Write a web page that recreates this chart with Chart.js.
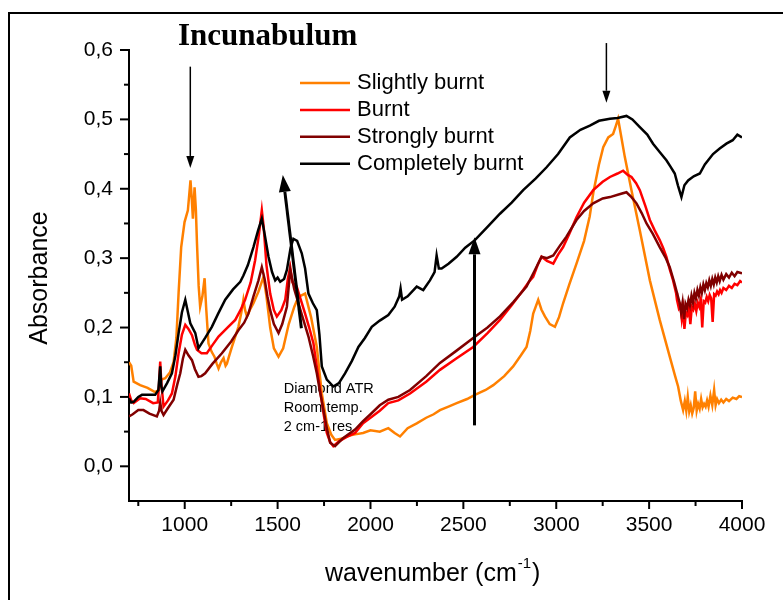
<!DOCTYPE html>
<html>
<head>
<meta charset="utf-8">
<script src="https://cdn.jsdelivr.net/npm/chart.js@4.4.1/dist/chart.umd.min.js"></script>
<style>
  body { margin: 0; background: #fff; }
  #frame { position: absolute; left: 8px; top: 12px; width: 800px; height: 620px;
           border-left: 2px solid #000; border-top: 2px solid #000; }
  #myChart { position: absolute; left: 0; top: 0; }
</style>
</head>
<body>
<div id="frame"></div>
<canvas id="myChart" width="783" height="600"></canvas>
<script>
// wavenumbers and absorbance
const slightX = [700, 712, 725, 760, 800, 840, 860, 875, 895, 920, 940, 955, 967, 981, 999, 1017, 1031, 1038, 1044, 1053, 1060, 1066, 1075, 1083, 1095, 1107, 1115, 1128, 1145, 1160, 1172, 1182, 1195, 1209, 1220, 1227, 1240, 1254, 1270, 1289, 1305, 1316, 1325, 1335, 1350, 1370, 1397, 1424, 1440, 1460, 1480, 1505, 1530, 1560, 1590, 1612, 1648, 1680, 1711, 1738, 1765, 1790, 1809, 1850, 1880, 1917, 1960, 2000, 2050, 2096, 2130, 2159, 2200, 2249, 2300, 2340, 2374, 2420, 2464, 2520, 2562, 2620, 2661, 2720, 2768, 2810, 2840, 2860, 2876, 2903, 2920, 2939, 2965, 2993, 3015, 3037, 3070, 3109, 3150, 3180, 3200, 3230, 3253, 3280, 3306, 3320, 3333, 3350, 3369, 3405, 3450, 3504, 3557, 3611, 3640, 3656, 3670, 3683, 3692, 3700, 3708, 3716, 3724, 3732, 3740, 3748, 3756, 3764, 3772, 3780, 3788, 3796, 3804, 3812, 3820, 3830, 3840, 3850, 3858, 3866, 3876, 3888, 3900, 3915, 3930, 3950, 3970, 3985, 4000];
const slightY = [0.150, 0.145, 0.122, 0.117, 0.113, 0.107, 0.110, 0.125, 0.127, 0.135, 0.150, 0.185, 0.250, 0.316, 0.352, 0.369, 0.412, 0.385, 0.357, 0.402, 0.370, 0.321, 0.260, 0.230, 0.245, 0.271, 0.230, 0.177, 0.165, 0.158, 0.148, 0.141, 0.150, 0.156, 0.145, 0.148, 0.160, 0.172, 0.185, 0.201, 0.222, 0.240, 0.225, 0.216, 0.225, 0.235, 0.252, 0.273, 0.245, 0.200, 0.170, 0.158, 0.170, 0.205, 0.230, 0.244, 0.249, 0.215, 0.172, 0.105, 0.062, 0.045, 0.038, 0.040, 0.044, 0.046, 0.048, 0.052, 0.050, 0.055, 0.048, 0.043, 0.055, 0.062, 0.070, 0.075, 0.081, 0.086, 0.091, 0.097, 0.103, 0.110, 0.117, 0.130, 0.144, 0.160, 0.172, 0.195, 0.220, 0.240, 0.226, 0.216, 0.205, 0.201, 0.215, 0.235, 0.262, 0.292, 0.325, 0.360, 0.395, 0.435, 0.460, 0.474, 0.479, 0.490, 0.501, 0.475, 0.446, 0.398, 0.340, 0.268, 0.211, 0.158, 0.130, 0.115, 0.095, 0.081, 0.094, 0.080, 0.100, 0.079, 0.088, 0.076, 0.084, 0.108, 0.080, 0.090, 0.083, 0.097, 0.085, 0.090, 0.086, 0.095, 0.086, 0.102, 0.088, 0.110, 0.088, 0.097, 0.091, 0.096, 0.092, 0.097, 0.094, 0.099, 0.097, 0.101, 0.100];

const burntX = [700, 712, 725, 760, 790, 830, 855, 862, 868, 874, 886, 910, 931, 950, 967, 985, 1003, 1020, 1039, 1055, 1066, 1090, 1119, 1150, 1182, 1230, 1272, 1300, 1325, 1355, 1379, 1400, 1415, 1425, 1440, 1460, 1480, 1496, 1520, 1541, 1555, 1568, 1580, 1603, 1625, 1648, 1670, 1693, 1710, 1729, 1748, 1765, 1783, 1800, 1830, 1870, 1917, 1960, 2000, 2050, 2096, 2150, 2213, 2300, 2374, 2460, 2553, 2630, 2697, 2760, 2822, 2850, 2876, 2900, 2921, 2950, 2984, 3010, 3037, 3070, 3109, 3150, 3199, 3250, 3289, 3330, 3360, 3385, 3405, 3430, 3450, 3480, 3504, 3530, 3557, 3575, 3593, 3610, 3629, 3645, 3650, 3660, 3668, 3676, 3684, 3690, 3698, 3706, 3714, 3722, 3730, 3738, 3746, 3754, 3762, 3770, 3778, 3786, 3794, 3802, 3810, 3818, 3826, 3834, 3842, 3850, 3858, 3866, 3874, 3882, 3890, 3900, 3915, 3930, 3945, 3960, 3975, 3990, 4000];
const burntY = [0.105, 0.095, 0.091, 0.098, 0.097, 0.091, 0.092, 0.120, 0.151, 0.120, 0.086, 0.095, 0.105, 0.130, 0.163, 0.190, 0.204, 0.198, 0.189, 0.175, 0.168, 0.163, 0.163, 0.175, 0.187, 0.200, 0.211, 0.225, 0.240, 0.265, 0.297, 0.335, 0.369, 0.345, 0.290, 0.249, 0.225, 0.216, 0.225, 0.240, 0.270, 0.287, 0.265, 0.259, 0.240, 0.220, 0.200, 0.177, 0.145, 0.110, 0.075, 0.048, 0.035, 0.029, 0.036, 0.042, 0.048, 0.062, 0.070, 0.080, 0.091, 0.095, 0.105, 0.122, 0.139, 0.155, 0.172, 0.192, 0.211, 0.232, 0.254, 0.265, 0.273, 0.290, 0.302, 0.296, 0.292, 0.305, 0.316, 0.335, 0.359, 0.380, 0.398, 0.410, 0.417, 0.422, 0.426, 0.420, 0.417, 0.408, 0.398, 0.375, 0.355, 0.340, 0.326, 0.315, 0.302, 0.285, 0.268, 0.250, 0.240, 0.228, 0.232, 0.212, 0.226, 0.198, 0.222, 0.218, 0.228, 0.205, 0.230, 0.226, 0.234, 0.224, 0.236, 0.230, 0.240, 0.200, 0.238, 0.236, 0.244, 0.238, 0.247, 0.242, 0.208, 0.248, 0.246, 0.252, 0.248, 0.254, 0.250, 0.257, 0.254, 0.260, 0.257, 0.263, 0.261, 0.267, 0.265];

const strongX = [700, 720, 750, 778, 810, 850, 862, 868, 875, 886, 910, 940, 960, 976, 990, 1003, 1020, 1039, 1055, 1074, 1090, 1110, 1150, 1200, 1250, 1289, 1320, 1343, 1370, 1397, 1415, 1430, 1445, 1460, 1480, 1505, 1525, 1550, 1568, 1590, 1612, 1640, 1666, 1690, 1711, 1730, 1747, 1765, 1783, 1809, 1850, 1917, 1960, 2000, 2050, 2096, 2150, 2213, 2300, 2374, 2460, 2553, 2630, 2697, 2770, 2840, 2880, 2921, 2950, 2984, 3020, 3055, 3109, 3150, 3199, 3250, 3289, 3340, 3378, 3405, 3432, 3460, 3486, 3520, 3557, 3590, 3611, 3635, 3656, 3664, 3672, 3680, 3688, 3696, 3704, 3712, 3720, 3728, 3736, 3744, 3752, 3760, 3768, 3776, 3784, 3792, 3800, 3808, 3816, 3824, 3832, 3840, 3848, 3856, 3864, 3872, 3880, 3890, 3900, 3915, 3930, 3945, 3960, 3975, 4000];
const strongY = [0.072, 0.075, 0.081, 0.081, 0.076, 0.072, 0.080, 0.092, 0.080, 0.074, 0.084, 0.096, 0.118, 0.134, 0.155, 0.168, 0.160, 0.153, 0.140, 0.129, 0.130, 0.134, 0.148, 0.163, 0.180, 0.196, 0.207, 0.220, 0.245, 0.268, 0.287, 0.270, 0.245, 0.225, 0.205, 0.192, 0.205, 0.230, 0.283, 0.255, 0.235, 0.210, 0.187, 0.160, 0.134, 0.105, 0.081, 0.055, 0.034, 0.029, 0.040, 0.053, 0.065, 0.075, 0.088, 0.096, 0.100, 0.110, 0.130, 0.149, 0.166, 0.185, 0.200, 0.216, 0.237, 0.259, 0.280, 0.302, 0.300, 0.304, 0.318, 0.331, 0.355, 0.368, 0.379, 0.386, 0.388, 0.392, 0.395, 0.388, 0.379, 0.365, 0.350, 0.335, 0.316, 0.300, 0.287, 0.265, 0.244, 0.236, 0.222, 0.236, 0.212, 0.234, 0.228, 0.240, 0.232, 0.246, 0.236, 0.250, 0.242, 0.254, 0.246, 0.258, 0.250, 0.262, 0.254, 0.264, 0.258, 0.268, 0.260, 0.270, 0.262, 0.272, 0.265, 0.274, 0.267, 0.276, 0.269, 0.277, 0.272, 0.279, 0.274, 0.280, 0.278];

const fullX = [700, 712, 725, 750, 770, 800, 841, 858, 868, 874, 880, 905, 931, 950, 967, 985, 1003, 1015, 1030, 1057, 1074, 1110, 1146, 1180, 1218, 1260, 1299, 1316, 1340, 1370, 1395, 1415, 1430, 1451, 1470, 1487, 1500, 1514, 1535, 1550, 1570, 1585, 1605, 1630, 1648, 1666, 1690, 1711, 1725, 1738, 1765, 1800, 1830, 1863, 1900, 1935, 1970, 2007, 2050, 2096, 2130, 2155, 2162, 2170, 2200, 2249, 2284, 2320, 2345, 2356, 2368, 2383, 2420, 2464, 2510, 2562, 2630, 2697, 2760, 2822, 2890, 2948, 3010, 3073, 3130, 3181, 3230, 3289, 3330, 3378, 3410, 3450, 3490, 3521, 3560, 3593, 3615, 3638, 3655, 3674, 3690, 3710, 3740, 3773, 3800, 3844, 3880, 3916, 3950, 3975, 4000];
const fullY = [0.098, 0.092, 0.093, 0.100, 0.103, 0.103, 0.103, 0.110, 0.144, 0.115, 0.108, 0.120, 0.134, 0.160, 0.192, 0.222, 0.240, 0.225, 0.206, 0.192, 0.170, 0.185, 0.201, 0.220, 0.240, 0.255, 0.266, 0.275, 0.290, 0.316, 0.340, 0.357, 0.335, 0.302, 0.280, 0.268, 0.272, 0.266, 0.270, 0.283, 0.315, 0.328, 0.325, 0.307, 0.285, 0.249, 0.235, 0.225, 0.190, 0.144, 0.125, 0.115, 0.120, 0.134, 0.152, 0.172, 0.185, 0.201, 0.210, 0.218, 0.230, 0.245, 0.256, 0.240, 0.245, 0.259, 0.254, 0.268, 0.280, 0.304, 0.285, 0.285, 0.292, 0.302, 0.315, 0.326, 0.345, 0.364, 0.380, 0.398, 0.415, 0.431, 0.450, 0.474, 0.485, 0.491, 0.498, 0.501, 0.502, 0.505, 0.500, 0.489, 0.478, 0.465, 0.452, 0.441, 0.432, 0.422, 0.405, 0.388, 0.405, 0.412, 0.418, 0.422, 0.435, 0.450, 0.458, 0.465, 0.470, 0.478, 0.474];

const seriesNames = ['Slightly burnt', 'Burnt', 'Strongly burnt', 'Completely burnt'];
const seriesColors = ['#ff8000', '#ff0000', '#800000', '#000000'];

const xTicks = [750, 1000, 1250, 1500, 1750, 2000, 2250, 2500, 2750, 3000, 3250, 3500, 3750, 4000];

// arrows: [x0, y0, x1 (tip), y1 (tip), thickness]
const arrows = [
    [1030, 0.576, 1030, 0.430, 1.5],
    [1628, 0.199, 1528, 0.420, 3],
    [3270, 0.610, 3270, 0.524, 1.5],
    [2560, 0.059, 2560, 0.330, 3]
];
const noteLines = ['Diamond ATR', 'Room temp.', '2 cm-1 res'];
const noteX = 1533;
const noteY = [0.111, 0.084, 0.056];

function pts(xs, ys) {
    return xs.map((x, i) => ({ x: x, y: ys[i] }));
}

const extras = {
    id: 'extras',
    beforeDatasetsDraw(chart) {
        const ctx = chart.ctx;
        const xs = chart.scales.x, ys = chart.scales.y;
        ctx.save();
        ctx.fillStyle = '#000';
        ctx.font = '14.5px "Liberation Sans", Arial';
        ctx.textBaseline = 'middle';
        ctx.textAlign = 'left';
        noteLines.forEach((t, i) => {
            ctx.fillText(t, xs.getPixelForValue(noteX), ys.getPixelForValue(noteY[i]));
        });
        ctx.restore();
    },
    afterDatasetsDraw(chart) {
        const ctx = chart.ctx;
        const xs = chart.scales.x, ys = chart.scales.y;
        ctx.save();
        ctx.strokeStyle = '#000';
        ctx.fillStyle = '#000';
        for (let a of arrows) {
            let x0 = xs.getPixelForValue(a[0]), y0 = ys.getPixelForValue(a[1]);
            let x1 = xs.getPixelForValue(a[2]), y1 = ys.getPixelForValue(a[3]);
            let ang = Math.atan2(y1 - y0, x1 - x0);
            let hl = a[4] > 2 ? 17 : 12, hw = a[4] > 2 ? 6 : 4;
            let bx = x1 - hl * Math.cos(ang), by = y1 - hl * Math.sin(ang);
            ctx.lineWidth = a[4];
            ctx.beginPath();
            ctx.moveTo(x0, y0);
            ctx.lineTo(bx, by);
            ctx.stroke();
            ctx.beginPath();
            ctx.moveTo(x1, y1);
            ctx.lineTo(bx + hw * Math.sin(ang), by - hw * Math.cos(ang));
            ctx.lineTo(bx - hw * Math.sin(ang), by + hw * Math.cos(ang));
            ctx.closePath();
            ctx.fill();
        }
        ctx.restore();
    },
    afterDraw(chart) {
        const ctx = chart.ctx;
        const xs = chart.scales.x, ys = chart.scales.y;
        ctx.save();
        // tick marks, long on labelled values
        ctx.strokeStyle = '#000';
        ctx.lineWidth = 2;
        const axisX = chart.chartArea.left, axisY = chart.chartArea.bottom;
        for (let t of xs.ticks) {
            let len = t.value % 500 === 0 ? 8 : 5;
            let px = xs.getPixelForValue(t.value);
            ctx.beginPath(); ctx.moveTo(px, axisY); ctx.lineTo(px, axisY + len); ctx.stroke();
        }
        for (let t of ys.ticks) {
            let k = Math.round(t.value * 100);
            if (k < 0) continue;
            let len = k % 10 === 0 ? 9 : 5;
            let py = ys.getPixelForValue(t.value);
            ctx.beginPath(); ctx.moveTo(axisX, py); ctx.lineTo(axisX - len, py); ctx.stroke();
        }
        // title
        ctx.fillStyle = '#000';
        ctx.font = 'bold 31px "Liberation Serif", "Times New Roman"';
        ctx.textBaseline = 'alphabetic';
        ctx.textAlign = 'left';
        ctx.fillText('Incunabulum', 178, 45);
        // legend
        ctx.font = '22px "Liberation Sans", Arial';
        ctx.textBaseline = 'middle';
        seriesNames.forEach((n, i) => {
            let y = 83 + i * 26.9;
            ctx.strokeStyle = seriesColors[i];
            ctx.lineWidth = 2.5;
            ctx.beginPath(); ctx.moveTo(300, y); ctx.lineTo(350, y); ctx.stroke();
            ctx.fillText(n, 357, y);
        });
        // axis titles
        ctx.font = '25px "Liberation Sans", Arial';
        ctx.textBaseline = 'alphabetic';
        let base = 'wavenumber (cm';
        let w0 = ctx.measureText(base).width;
        let x0 = 325;
        ctx.fillText(base, x0, 581);
        ctx.font = '15px "Liberation Sans", Arial';
        let w1 = ctx.measureText('-1').width;
        ctx.fillText('-1', x0 + w0 + 1, 568);
        ctx.font = '25px "Liberation Sans", Arial';
        ctx.fillText(')', x0 + w0 + w1 + 2, 581);
        ctx.translate(40, 278);
        ctx.rotate(-Math.PI / 2);
        ctx.textAlign = 'center';
        ctx.textBaseline = 'middle';
        ctx.fillText('Absorbance', 0, 0);
        ctx.restore();
    }
};

let ctx = document.getElementById('myChart').getContext('2d');
let myChart = new Chart(ctx, {
    type: 'line',
    data: {
        datasets: [
            { label: seriesNames[0], data: pts(slightX, slightY), borderColor: seriesColors[0], order: 4 },
            { label: seriesNames[1], data: pts(burntX, burntY), borderColor: seriesColors[1], order: 3 },
            { label: seriesNames[2], data: pts(strongX, strongY), borderColor: seriesColors[2], order: 2 },
            { label: seriesNames[3], data: pts(fullX, fullY), borderColor: seriesColors[3], order: 1 }
        ]
    },
    options: {
        responsive: false,
        animation: false,
        devicePixelRatio: 1,
        datasets: { line: { borderWidth: 2.5, pointRadius: 0, fill: false, tension: 0 } },
        layout: { padding: { left: 0, top: 50, right: 41, bottom: 0 } },
        plugins: { legend: { display: false }, tooltip: { enabled: false } },
        scales: {
            x: {
                type: 'linear', min: 700, max: 4000,
                border: { display: true, color: '#000', width: 2 },
                grid: { drawOnChartArea: false, drawTicks: false },
                afterBuildTicks(s) { s.ticks = xTicks.map(v => ({ value: v })); },
                ticks: {
                    padding: 12, color: '#000', maxRotation: 0, autoSkip: false,
                    font: { family: '"Liberation Sans", Arial', size: 21 },
                    callback: v => (v % 500 === 0 ? String(v) : '')
                },
                afterFit(s) { s.height = 99; s.paddingLeft = 0; s.paddingRight = 0; }
            },
            y: {
                min: -0.05, max: 0.6,
                border: { display: true, color: '#000', width: 2 },
                grid: { drawOnChartArea: false, drawTicks: false },
                ticks: {
                    stepSize: 0.05, padding: 16, color: '#000', autoSkip: false,
                    font: { family: '"Liberation Sans", Arial', size: 21 },
                    callback: v => {
                        let k = Math.round(v * 100);
                        return k >= 0 && k % 10 === 0 ? (k / 100).toFixed(1).replace('.', ',') : '';
                    }
                },
                afterFit(s) { s.width = 129; s.paddingTop = 0; s.paddingBottom = 0; }
            }
        }
    },
    plugins: [extras]
});
</script>
</body>
</html>
